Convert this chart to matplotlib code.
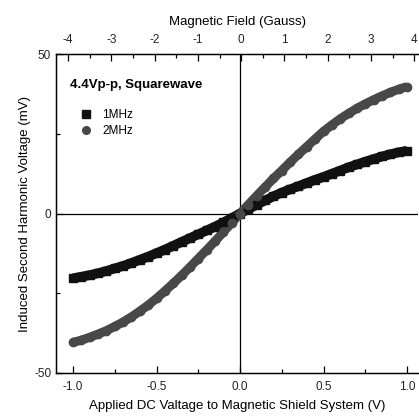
import matplotlib
matplotlib.use("Agg")
import matplotlib.pyplot as plt
from matplotlib.ticker import MultipleLocator

plt.rcParams['font.family'] = ['Liberation Sans', 'DejaVu Sans']
plt.rcParams['axes.unicode_minus'] = False

voltage = [-1.00, -0.95, -0.90, -0.85, -0.80, -0.75, -0.70, -0.65, -0.60, -0.55,
           -0.50, -0.45, -0.40, -0.35, -0.30, -0.25, -0.20, -0.15, -0.10, -0.05,
           0.00, 0.05, 0.10, 0.15, 0.20, 0.25, 0.30, 0.35, 0.40, 0.45,
           0.50, 0.55, 0.60, 0.65, 0.70, 0.75, 0.80, 0.85, 0.90, 0.95, 1.00]

mhz1 = [-20.3, -19.8, -19.3, -18.7, -18.0, -17.2, -16.4, -15.5, -14.5, -13.5,
        -12.4, -11.3, -10.1, -8.9, -7.7, -6.5, -5.3, -4.1, -2.8, -1.4,
        0.0, 1.4, 2.8, 4.1, 5.4, 6.6, 7.6, 8.6, 9.6, 10.6,
        11.5, 12.5, 13.5, 14.5, 15.4, 16.3, 17.1, 17.9, 18.6, 19.2, 19.7]

mhz2 = [-40.4, -39.7, -38.8, -37.8, -36.7, -35.4, -34.0, -32.4, -30.6, -28.7,
        -26.6, -24.3, -21.9, -19.4, -16.8, -14.1, -11.4, -8.7, -5.8, -2.9,
        0.0, 2.8, 5.6, 8.3, 11.0, 13.5, 16.1, 18.6, 21.0, 23.4,
        25.8, 27.8, 29.7, 31.4, 33.0, 34.4, 35.7, 36.9, 38.0, 39.0, 39.8]

series_labels = ['1MHz', '2MHz']
legend_title = '4.4Vp-p, Squarewave'

bottom_ticks = [-1.0, -0.5, 0.0, 0.5, 1.0]
bottom_ticklabels = ['-1.0', '-0.5', '0.0', '0.5', '1.0']
top_ticks = [-4, -3, -2, -1, 0, 1, 2, 3, 4]
left_ticks = [-50, 0, 50]

fig = plt.figure(figsize=(4.19, 4.19), dpi=100)
ax = fig.add_axes([0.1337, 0.1098, 0.864, 0.761])

ax.axhline(0, color='black', lw=0.9, zorder=1)
ax.axvline(0, color='black', lw=0.9, zorder=1)

ax.plot(voltage, mhz1, color='#111111', lw=7.0, solid_capstyle='butt', zorder=2)
ax.plot(voltage, mhz1, ls='none', marker='s', ms=5.5, color='#111111',
        label=series_labels[0], zorder=3)
ax.plot(voltage, mhz2, color='#484848', lw=6.5, solid_capstyle='butt', zorder=2)
ax.plot(voltage, mhz2, ls='none', marker='o', ms=6.0, color='#484848',
        label=series_labels[1], zorder=3)

ax.set_xlim(-1.102, 1.066)
ax.set_ylim(-50, 50)

ax.set_xticks(bottom_ticks)
ax.set_xticklabels(bottom_ticklabels)
ax.xaxis.set_minor_locator(MultipleLocator(0.25))
ax.set_yticks(left_ticks)
ax.yaxis.set_minor_locator(MultipleLocator(25))

ax.tick_params(axis='both', which='both', direction='in', labelsize=8.5,
               labelcolor='#222222')
ax.tick_params(axis='both', which='major', length=5, width=0.9)
ax.tick_params(axis='both', which='minor', length=3, width=0.9)
ax.tick_params(axis='x', pad=6)

ax.set_xlabel('Applied DC Valtage to Magnetic Shield System (V)', fontsize=9.5,
              labelpad=5)
ax.set_ylabel('Induced Second Harmonic Voltage (mV)', fontsize=9.5, labelpad=2)

ax.spines['right'].set_visible(False)
for s in ['left', 'top', 'bottom']:
    ax.spines[s].set_linewidth(1.0)

top = ax.twiny()
top.set_xlim(-4.28, 4.09)
top.set_xticks(top_ticks)
top.xaxis.set_minor_locator(MultipleLocator(0.5))
top.tick_params(axis='x', which='both', direction='in', labelsize=8.5,
                labelcolor='#222222')
top.tick_params(axis='x', which='major', length=5, width=0.9, pad=6)
top.tick_params(axis='x', which='minor', length=3, width=0.9)
top.set_xlabel('Magnetic Field (Gauss)', fontsize=9.5, labelpad=6)
top.spines['right'].set_visible(False)

ax.text(0.039, 0.903, legend_title, transform=ax.transAxes, fontsize=9.5,
        fontweight='bold', ha='left', va='center')

leg = ax.legend(loc='upper left', bbox_to_anchor=(0.066, 0.827), frameon=False,
                fontsize=8.5, handlelength=1.0, handletextpad=0.9,
                labelspacing=0.3, borderaxespad=0, borderpad=0)
for h in leg.legend_handles:
    h.set_linestyle('none')
    h.set_markersize(5.5)

fig.savefig('out.png', dpi=100)
